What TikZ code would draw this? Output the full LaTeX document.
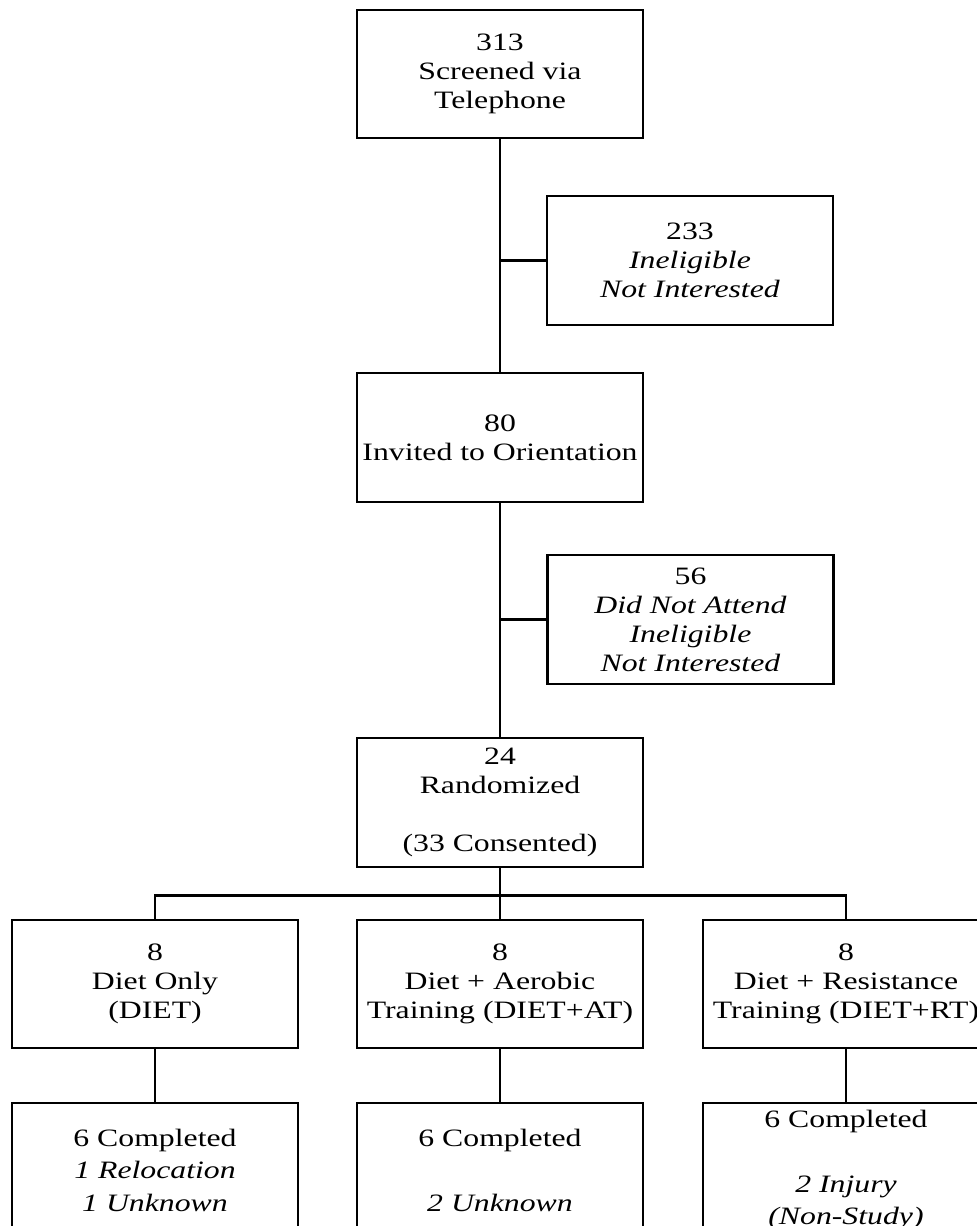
\documentclass[tikz,border=0pt]{standalone}
\usepackage{fontspec}
\setmainfont{Liberation Serif}[FakeStretch=1.27]
\begin{document}
\begin{tikzpicture}[x=1pt,y=-1pt,
  box/.style={draw=black, line width=2.8pt, minimum width=286pt, minimum height=128pt,
    inner sep=0pt, align=center, font=\fontsize{25}{29}\selectfont},
  lowbox/.style={box, minimum height=134pt, font=\fontsize{25}{32.5}\selectfont},
  conn/.style={draw=black, line width=2.6pt}]
\useasboundingbox (0,0) rectangle (977,1226);
\clip (0,0) rectangle (977,1226);
\fill[white] (0,0) rectangle (977,1226);

\node[box] (b1) at (500,74) {313\\Screened via\\Telephone};
\node[box, minimum height=129pt] (b2) at (690,260.5) {233\\\textit{Ineligible}\\\textit{Not Interested}};
\node[box, minimum height=129pt] (b3) at (500,437.5) {80\\Invited to Orientation};
\node[box, minimum height=129pt] (b4) at (690.5,619.5) {56\\\textit{Did Not Attend}\\\textit{Ineligible}\\\textit{Not Interested}};
\node[box, minimum height=129pt] (b5) at (500,802.5) {24\\Randomized\\[29pt](33 Consented)};

\node[box] (r1a) at (155,984) {8\\Diet Only\\(DIET)};
\node[box] (r1b) at (500,984) {8\\Diet + Aerobic\\Training (DIET+AT)};
\node[box] (r1c) at (846,984) {8\\Diet + Resistance\\Training (DIET+RT)};

\node[lowbox] (r2a) at (155,1170) {6 Completed\\\textit{1 Relocation}\\\textit{1 Unknown}};
\node[lowbox] (r2b) at (500,1170) {6 Completed\\[32.5pt]\textit{2 Unknown}};
\node[lowbox] (r2c) at (846,1170) {6 Completed\\[32.5pt]\textit{2 Injury}\\\textit{(Non-Study)}};

\draw[conn] (b1.south) -- (b3.north);
\draw[conn] (b3.south) -- (b5.north);
\draw[conn] (b2.west) -- (b2.west -| b1.south);
\draw[conn] (b4.west) -- (b4.west -| b1.south);
\draw[conn] (b5.south) -- ++(0,27) coordinate (j);
\draw[conn] (r1a.north) |- (j) -| (r1c.north);
\draw[conn] (j) -- (r1b.north);
\draw[conn] (r1a.south) -- (r2a.north);
\draw[conn] (r1b.south) -- (r2b.north);
\draw[conn] (r1c.south) -- (r2c.north);
\end{tikzpicture}
\end{document}
